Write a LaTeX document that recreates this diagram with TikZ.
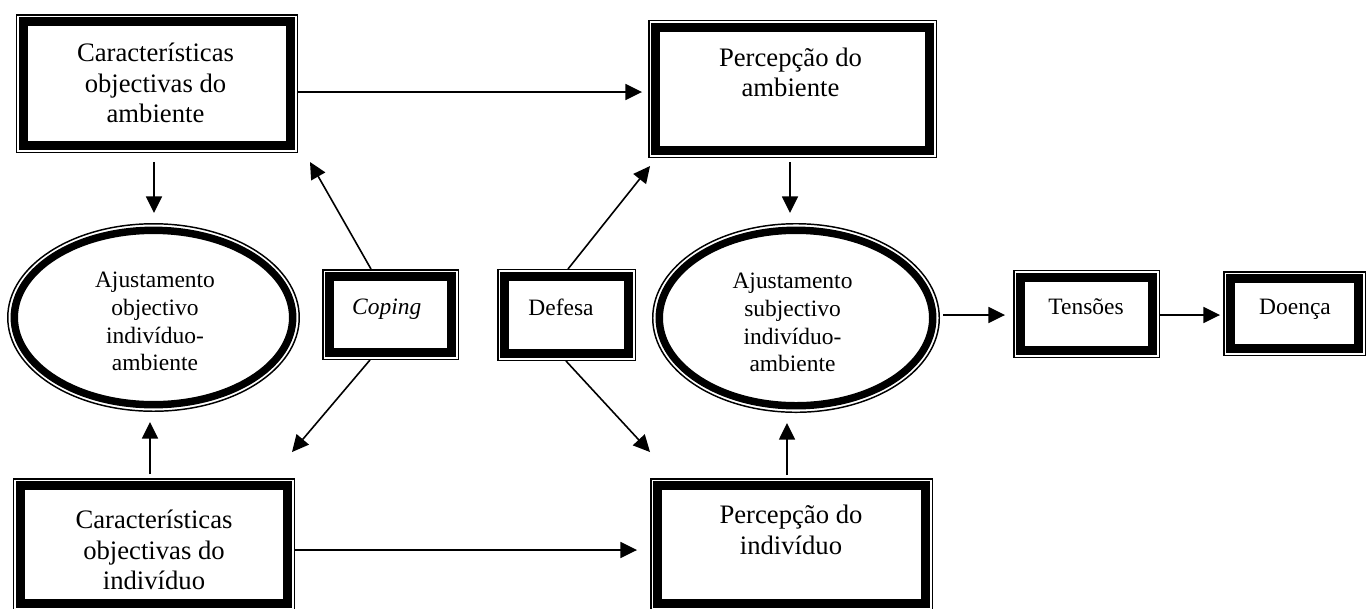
\documentclass[tikz,border=0pt]{standalone}
\usepackage{fontspec}
\setmainfont{Liberation Serif}
\usetikzlibrary{arrows.meta,calc,shapes.geometric}

\tikzset{
  % box with a thin outer rule and a heavy inner rule
  frame/.style={draw, line width=1.1pt, inner sep=0pt, rectangle,
    path picture={\draw[line width=6.2pt]
      ([shift={(5.1pt,5.1pt)}]path picture bounding box.south west) rectangle
      ([shift={(-5.1pt,-5.1pt)}]path picture bounding box.north east);}},
  oval/.style={draw, line width=1.1pt, inner sep=0pt, ellipse,
    path picture={\draw[line width=5.6pt]
      let \p1=(path picture bounding box.center),
          \p2=(path picture bounding box.north east) in
      (path picture bounding box.center)
      ellipse [x radius={\x2-\x1-4.9pt}, y radius={\y2-\y1-4.9pt}];}},
  bigtext/.style={align=center, inner sep=0pt, font=\fontsize{20pt}{23pt}\selectfont},
  smalltext/.style={align=center, inner sep=0pt, font=\fontsize{17.6pt}{20.8pt}\selectfont},
  arr/.style={line width=1.2pt, -{Triangle[length=12.5pt, width=12pt]}}
}

\begin{document}
\begin{tikzpicture}[x=0.75pt, y=-0.75pt]
\useasboundingbox (0,0) rectangle (1370,608);

% frames
\node[frame, minimum width=210.4pt, minimum height=103.1pt] (ca) at (157,83.5) {};
\node[frame, minimum width=215.6pt, minimum height=102.4pt] (pa) at (792.5,89) {};
\node[frame, minimum width=210.4pt, minimum height=98.6pt] (ci) at (154,544.5) {};
\node[frame, minimum width=211.1pt, minimum height=98.6pt] (pi) at (791.5,544.5) {};
\node[frame, minimum width=101.6pt, minimum height=67.1pt] (cop) at (390.5,314.5) {};
\node[frame, minimum width=103.1pt, minimum height=67.9pt] (def) at (566.5,315) {};
\node[frame, minimum width=109.1pt, minimum height=64.9pt] (ten) at (1086.5,314) {};
\node[frame, minimum width=106.1pt, minimum height=62.6pt] (doe) at (1294.5,313.5) {};
\node[oval, minimum width=218.6pt, minimum height=140.6pt] (ajo) at (153.5,317.5) {};
\node[oval, minimum width=214.9pt, minimum height=141.4pt] (ajs) at (796,318) {};

% texts
\node[bigtext] (ca-t) at (155.5,83) {Características\\objectivas do\\ambiente};
\node[bigtext] (pa-t) at (790.5,72.5) {Percepção do\\ambiente};
\node[bigtext] (ci-t) at (154,550) {Características\\objectivas do\\indivíduo};
\node[bigtext] (pi-t) at (791,530) {Percepção do\\indivíduo};
\node[smalltext] (ajo-t) at (155,321.5) {Ajustamento\\objectivo\\indivíduo-\\ambiente};
\node[smalltext] (ajs-t) at (792.5,322.5) {Ajustamento\\subjectivo\\indivíduo-\\ambiente};
\node[smalltext] (cop-t) at (386.7,309.5) {\textit{Coping}};
\node[smalltext] (def-t) at (561,307.5) {Defesa};
\node[smalltext] (ten-t) at (1086,306.5) {Tensões};
\node[smalltext] (doe-t) at (1295,309) {Doença};

% connectors
\draw[arr] ([shift={(0,8.5)}]ca.east) -- ([shift={(-6,3)}]pa.west);
\draw[arr] ([shift={(-3,9)}]ca.south) -- ([shift={(0.5,-10)}]ajo.north);
\draw[arr] ([shift={(-4,-4)}]ci.north) -- ([shift={(-3.5,10)}]ajo.south);
\draw[arr] ([shift={(-19.5,0)}]cop.north) -- ([shift={(12,9)}]ca.south east);
\draw[arr] ([shift={(-20.5,0)}]cop.south) -- ([shift={(-3,-26)}]ci.north east);
\draw[arr] ([shift={(1.5,0)}]def.north) -- ([shift={(2,8)}]pa.south west);
\draw[arr] ([shift={(-0.5,0)}]def.south) -- ([shift={(0,-26)}]pi.north west);
\draw[arr] ([shift={(-2.5,4)}]pa.south) -- ([shift={(-6,-10)}]ajs.north);
\draw[arr] ([shift={(-4.5,-3)}]pi.north) -- ([shift={(-9,10)}]ajs.south);
\draw[arr] ([shift={(0,5.5)}]ci.east) -- ([shift={(-13,5.5)}]pi.west);
\draw[arr] ([shift={(3,-3)}]ajs.east) -- ([shift={(-8,1)}]ten.west);
\draw[arr] ([shift={(0,1)}]ten.east) -- ([shift={(-3,1.5)}]doe.west);
\end{tikzpicture}
\end{document}
